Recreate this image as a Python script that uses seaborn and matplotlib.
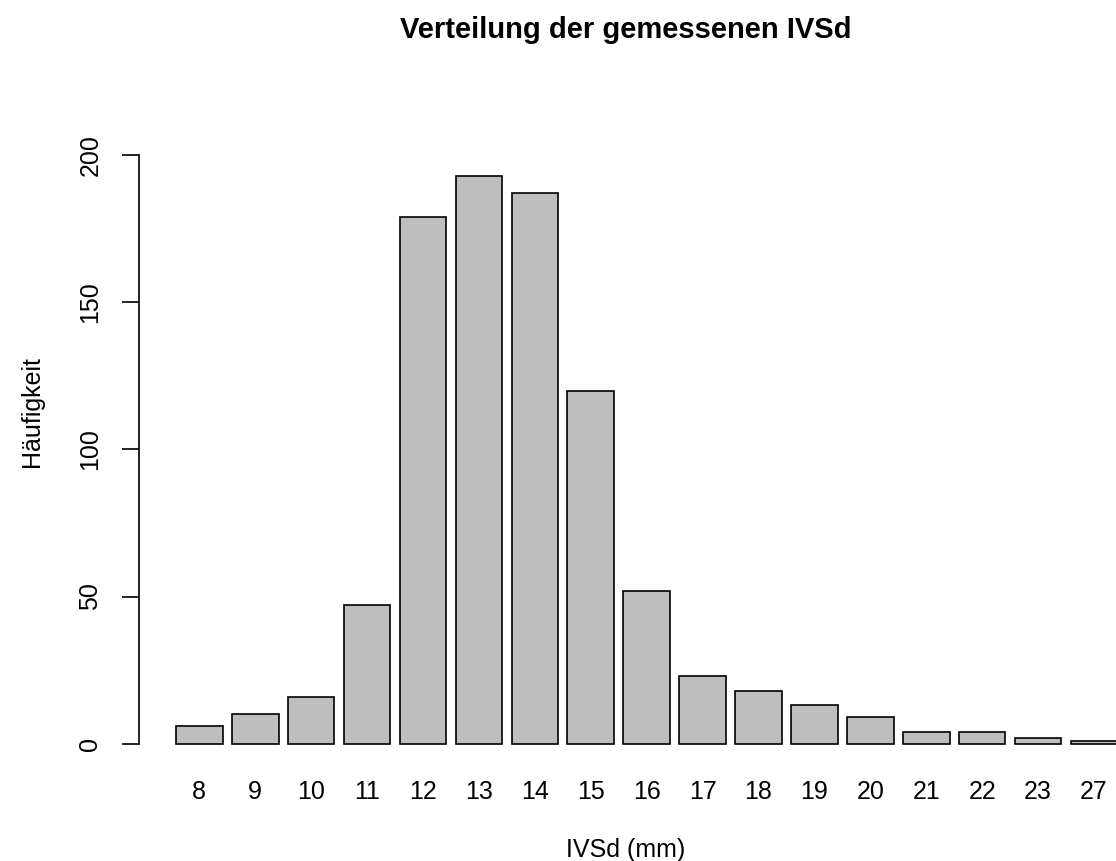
import matplotlib
matplotlib.use("Agg")
import matplotlib.pyplot as plt
import pandas as pd
import seaborn as sns

# IVSd values (mm) and how often each was measured
ivsd_mm = ["8", "9", "10", "11", "12", "13", "14", "15", "16",
           "17", "18", "19", "20", "21", "22", "23", "27"]
counts = [6, 10, 16, 47, 179, 193, 187, 120, 52, 23, 18, 13, 9, 4, 4, 2, 1]
y_ticks = [0, 50, 100, 150, 200]

title = "Verteilung der gemessenen IVSd"
x_label = "IVSd (mm)"
y_label = "Häufigkeit"

df = pd.DataFrame({"ivsd": ivsd_mm, "count": counts})

sns.set_style("white")
plt.rcParams["font.family"] = ["Liberation Sans", "DejaVu Sans"]
plt.rcParams["text.color"] = "black"
plt.rcParams["axes.labelcolor"] = "black"
plt.rcParams["xtick.color"] = "black"
plt.rcParams["ytick.color"] = "black"

fig = plt.figure(figsize=(11.16, 8.61), dpi=100)
ax = fig.add_axes([138.5 / 1116, 1 - 766.4 / 861, 1 - 138.5 / 1116, (766.4 - 153.0) / 861])

sns.barplot(data=df, x="ivsd", y="count", order=ivsd_mm, color="#BEBEBE",
            saturation=1, edgecolor="black", linewidth=1.2, width=1 / 1.2, ax=ax)

# R-like barplot layout: bars spaced 1.2 units, last bar running off the edge
ax.set_xlim(-1.0873, 16.393)
ax.set_ylim(-7.72, 200.72)

for side in ["top", "right", "bottom"]:
    ax.spines[side].set_visible(False)
ax.spines["left"].set_bounds(0, 200)
ax.spines["left"].set_linewidth(1.2)
ax.spines["left"].set_color("black")

ax.set_yticks(y_ticks)
ax.set_yticklabels([str(t) for t in y_ticks], rotation=90, va="center")
ax.tick_params(axis="y", length=12, width=1.2, pad=14, labelsize=18, left=True)
ax.tick_params(axis="x", length=0, pad=10, labelsize=18)

ax.set_xlabel(x_label, fontsize=18)
ax.set_ylabel(y_label, fontsize=18)
ax_w = 1116 - 138.5
ax_h = 766.4 - 153.0
ax.xaxis.set_label_coords((626 - 138.5) / ax_w, -(850 - 766.4) / ax_h)
ax.yaxis.set_label_coords(-(138.5 - 32) / ax_w, (766.4 - 412) / ax_h)
ax.xaxis.label.set_va("center")
ax.yaxis.label.set_va("center")

fig.text(626 / 1116, 1 - 30 / 861, title, ha="center", va="center",
         fontsize=21, fontweight="bold")

fig.savefig("out.png", dpi=100, facecolor="white")
